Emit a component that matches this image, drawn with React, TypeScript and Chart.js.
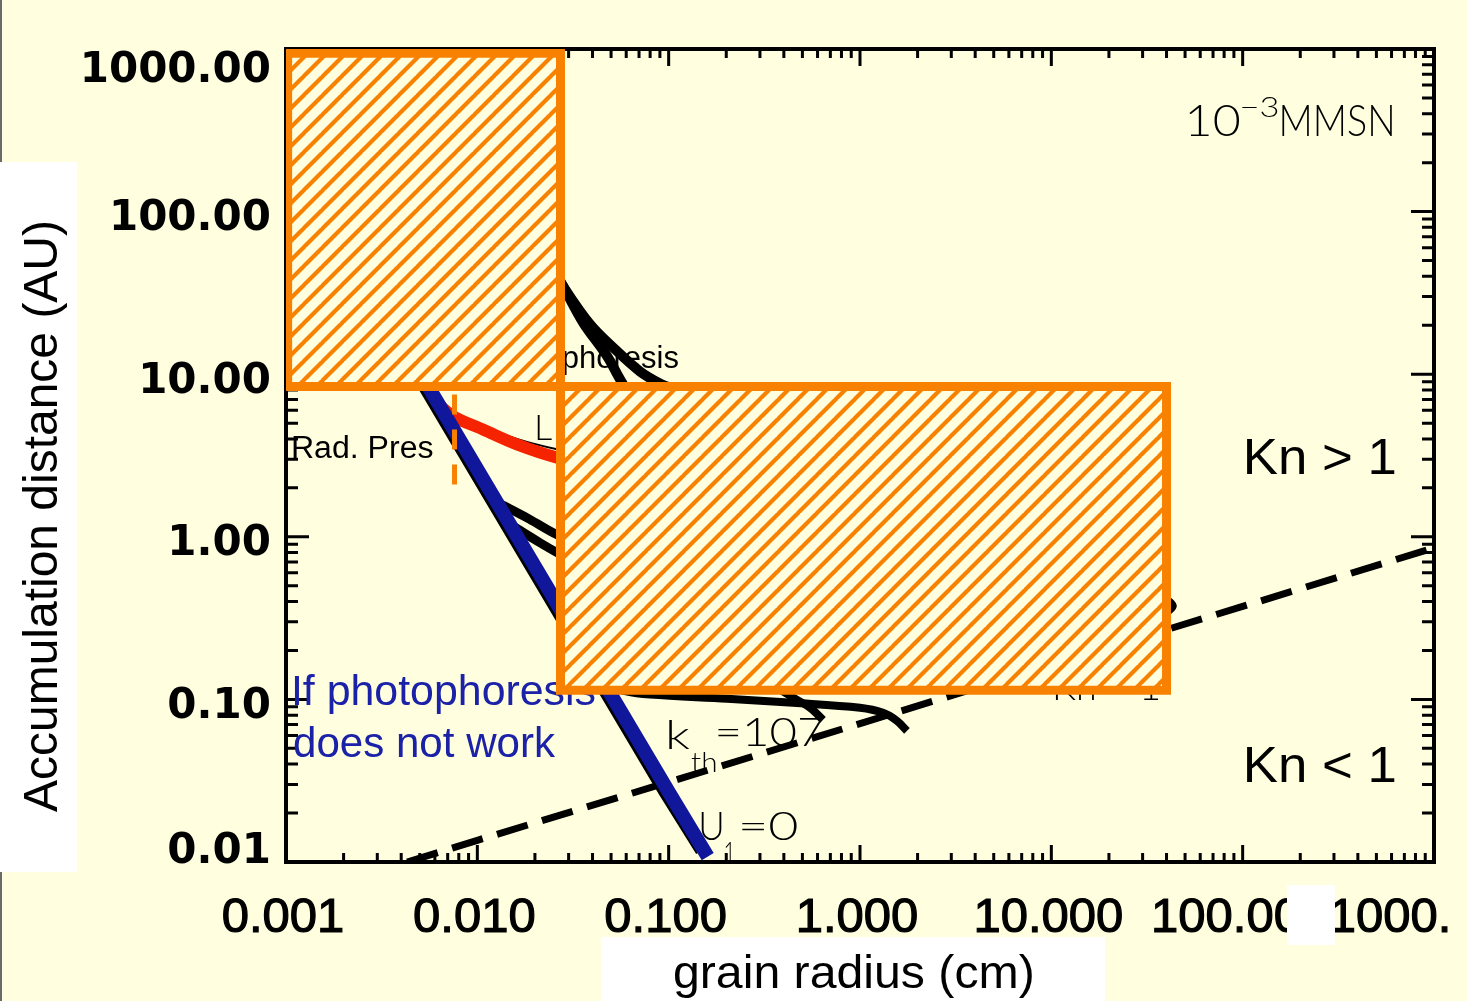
import React, { useEffect, useRef } from "react";
import { Chart, registerables } from "chart.js";
Chart.register(...registerables);

const W = 1467;
const H = 1001;

// ---- axes ----
const xRange = [0.001, 1000];
const yRange = [0.01, 1000];
const xTickValues = [0.001, 0.01, 0.1, 1, 10, 100, 1000];
const xTickLabels = ["0.001", "0.010", "0.100", "1.000", "10.000", "100.000", "1000.000"];
const yTickValues = [1000, 100, 10, 1, 0.1, 0.01];
const yTickLabels = ["1000.00", "100.00", "10.00", "1.00", "0.10", "0.01"];

// ---- series (grain radius cm, accumulation distance AU) ----
const noPhotoX = [0.004, 0.01, 0.1, 0.16];
const noPhotoY = [16, 2.6, 0.027, 0.0108];
const noPhotoEdgeX = [0.0038, 0.0095, 0.095, 0.148];
const noPhotoEdgeY = [16, 2.6, 0.027, 0.0117];
const knudsenX = [0.0043, 0.01, 0.1, 1, 10, 100, 1000];
const knudsenY = [0.01, 0.0136, 0.031, 0.071, 0.163, 0.373, 0.855];
const radPresX = [0.0048, 0.0055, 0.0063, 0.0075, 0.0107, 0.0161, 0.0261, 0.04];
const radPresY = [10.2, 7.9, 6.5, 5.5, 4.57, 3.7, 3.07, 2.8];
const radThinX = [0.0107, 0.0161, 0.0261, 0.04];
const radThinY = [4.8, 4.0, 3.45, 3.15];
const markerX = [0.0076, 0.0076];
const markerY = [7.5, 2.0];
const photoAX = [0.024, 0.0281, 0.0357, 0.0477, 0.0592, 0.07];
const photoAY = [48, 34.7, 20.8, 12.9, 8.3, 6.8];
const photoBX = [0.024, 0.0281, 0.0388, 0.0525, 0.0708, 0.09, 0.11];
const photoBY = [48, 34.7, 20.3, 14.2, 10.4, 8.78, 8.0];
const branchAX = [0.0128, 0.0138, 0.0188, 0.0261, 0.035];
const branchAY = [1.62, 1.55, 1.28, 1.03, 0.9];
const branchBX = [0.0148, 0.016, 0.02, 0.0261, 0.035];
const branchBY = [1.2, 1.13, 0.96, 0.8, 0.68];
const lowerAX = [0.04, 0.06, 0.08, 0.202, 0.447, 1.0, 1.32, 1.56, 1.76];
const lowerAY = [0.13, 0.112, 0.107, 0.101, 0.0953, 0.0888, 0.0827, 0.0738, 0.064];
const lowerBX = [0.33, 0.416, 0.548, 0.641];
const lowerBY = [0.13, 0.108, 0.0888, 0.0748];
const curlX = [36, 39.4, 43.4, 40.3];
const curlY = [0.44, 0.42, 0.377, 0.341];

// ---- excluded (hatched) regions ----
const boxXFrom = [0.00102, 0.0272];
const boxXTo = [0.0272, 40];
const boxYFrom = [8.4, 0.114];
const boxYTo = [940, 8.4];

const BG = "#FFFFE0";
const ORANGE = "#F98100";
const BLUE_LINE = "#10179B";
const BLUE_TEXT = "#1B22A8";
const RED = "#F62300";
const SANS = "'Liberation Sans', Arial, sans-serif";
const thin = (px: number) => `300 ${px}px Lato, 'DejaVu Sans', sans-serif`;
const sans = (px: number) => `${px}px ${SANS}`;

const pts = (xs: number[], ys: number[]) => xs.map((x, i) => ({ x, y: ys[i] }));

function fitText(
  ctx: CanvasRenderingContext2D,
  str: string,
  left: number,
  right: number,
  baseline: number,
  font: string,
  color: string
) {
  ctx.save();
  ctx.font = font;
  ctx.fillStyle = color;
  ctx.textAlign = "left";
  ctx.textBaseline = "alphabetic";
  const m = ctx.measureText(str);
  const inkW = m.actualBoundingBoxLeft + m.actualBoundingBoxRight;
  const sx = inkW > 0 ? (right - left) / inkW : 1;
  ctx.translate(left, baseline);
  ctx.scale(sx, 1);
  ctx.fillText(str, m.actualBoundingBoxLeft, 0);
  ctx.restore();
}

function makeHatch(): CanvasPattern | string {
  const s = 19;
  const c = document.createElement("canvas");
  c.width = s;
  c.height = s;
  const g = c.getContext("2d");
  if (!g) return BG;
  g.fillStyle = BG;
  g.fillRect(0, 0, s, s);
  g.strokeStyle = ORANGE;
  g.lineWidth = 4.2;
  g.beginPath();
  for (const k of [-1, 0, 1]) {
    g.moveTo(k * s - 1, s + 1);
    g.lineTo(k * s + s + 1, -1);
  }
  g.stroke();
  return g.createPattern(c, "repeat") || BG;
}

const bgPlugin = {
  id: "bgPlugin",
  beforeDraw(chart: any) {
    const ctx = chart.ctx as CanvasRenderingContext2D;
    ctx.save();
    ctx.fillStyle = BG;
    ctx.fillRect(0, 0, W, H);
    ctx.fillStyle = "#6a6a6a";
    ctx.fillRect(0, 0, 2, H);
    ctx.restore();
  },
};

const framePlugin = {
  id: "framePlugin",
  beforeDatasetsDraw(chart: any) {
    const ctx = chart.ctx as CanvasRenderingContext2D;
    const a = chart.chartArea;
    const xs = chart.scales.x;
    const ys = chart.scales.y;
    ctx.save();
    ctx.strokeStyle = "#000";
    ctx.lineWidth = 3;
    ctx.beginPath();
    const e0x = Math.round(Math.log10(xRange[0]));
    const e1x = Math.round(Math.log10(xRange[1]));
    for (let e = e0x; e <= e1x; e++) {
      for (let m = 1; m <= 9; m++) {
        const v = m * Math.pow(10, e);
        if (v > xRange[1] * 1.0001) continue;
        const px = xs.getPixelForValue(v);
        const len = m === 1 ? 17 : 9;
        ctx.moveTo(px, a.bottom);
        ctx.lineTo(px, a.bottom - len);
        ctx.moveTo(px, a.top);
        ctx.lineTo(px, a.top + len);
      }
    }
    const e0y = Math.round(Math.log10(yRange[0]));
    const e1y = Math.round(Math.log10(yRange[1]));
    for (let e = e0y; e <= e1y; e++) {
      for (let m = 1; m <= 9; m++) {
        const v = m * Math.pow(10, e);
        if (v > yRange[1] * 1.0001) continue;
        const py = ys.getPixelForValue(v);
        const len = m === 1 ? 23 : 12;
        ctx.moveTo(a.left, py);
        ctx.lineTo(a.left + len, py);
        ctx.moveTo(a.right, py);
        ctx.lineTo(a.right - len, py);
      }
    }
    ctx.stroke();
    ctx.lineWidth = 4;
    ctx.strokeRect(a.left, a.top, a.right - a.left, a.bottom - a.top);

    // annotations under the hatched regions
    fitText(ctx, "Kn > 1", 1247, 1395, 474, sans(50), "#000");
    fitText(ctx, "Kn < 1", 1247, 1395, 782, sans(50), "#000");
    fitText(ctx, "Rad. Pres", 293, 433, 458, sans(31), "#000");
    ctx.font = sans(31);
    ctx.fillStyle = "#000";
    ctx.textAlign = "right";
    ctx.textBaseline = "alphabetic";
    ctx.fillText("Photophoresis", 679, 368);
    fitText(ctx, "If photophoresis", 294, 595, 705, sans(42), BLUE_TEXT);
    fitText(ctx, "does not work", 294, 556, 757, sans(42), BLUE_TEXT);
    fitText(ctx, "10", 1189, 1239, 136, thin(44), "#000");
    fitText(ctx, "\u22123", 1242, 1278, 117, thin(28), "#000");
    fitText(ctx, "MMSN", 1282, 1392, 136, thin(44), "#000");
    fitText(ctx, "k", 669, 690, 749, thin(40), "#000");
    fitText(ctx, "th", 691, 716, 772, thin(28), "#000");
    fitText(ctx, "=107", 718, 823, 746, thin(40), "#000");
    fitText(ctx, "U", 701, 722, 840, thin(40), "#000");
    fitText(ctx, "1", 725, 734, 862, thin(28), "#000");
    fitText(ctx, "=0", 742, 797, 840, thin(40), "#000");
    fitText(ctx, "L", 537, 552, 440, thin(36), "#000");
    fitText(ctx, "Kn = 1", 1055, 1158, 700, thin(38), "#000");
    ctx.restore();
  },
  afterDraw(chart: any) {
    const ctx = chart.ctx as CanvasRenderingContext2D;
    const a = chart.chartArea;
    const xs = chart.scales.x;
    const ys = chart.scales.y;
    ctx.save();
    // y tick labels
    ctx.font = `bold 42px 'DejaVu Sans', Verdana, sans-serif`;
    ctx.fillStyle = "#000";
    ctx.textAlign = "right";
    ctx.textBaseline = "alphabetic";
    yTickValues.forEach((v, i) => {
      const py = ys.getPixelForValue(v);
      const c = Math.min(Math.max(py + 3.5, a.top + 18), a.bottom - 14);
      ctx.fillText(yTickLabels[i], 271, c + 15);
    });
    // x tick labels (figure cropped at the right)
    ctx.save();
    ctx.beginPath();
    ctx.rect(0, 880, 1450, 70);
    ctx.clip();
    ctx.font = sans(49);
    ctx.textAlign = "center";
    ctx.lineWidth = 1.2;
    ctx.strokeStyle = "#000";
    xTickValues.forEach((v, i) => {
      const px = xs.getPixelForValue(v) - 3;
      ctx.fillText(xTickLabels[i], px, 932);
      ctx.strokeText(xTickLabels[i], px, 932);
    });
    ctx.restore();
    // white patches
    ctx.fillStyle = "#FFFFFF";
    ctx.fillRect(0, 162, 77, 710);
    ctx.fillRect(601, 937, 504, 64);
    ctx.fillRect(1287, 885, 48, 60);
    // axis titles
    fitText(ctx, "grain radius (cm)", 674, 1032, 988, sans(47), "#000");
    ctx.save();
    ctx.translate(57, 517);
    ctx.rotate(-Math.PI / 2);
    fitText(ctx, "Accumulation distance (AU)", -295, 295, 0, sans(48), "#000");
    ctx.restore();
    ctx.restore();
  },
};

export default function App() {
  const ref = useRef<HTMLCanvasElement>(null);
  useEffect(() => {
    document.body.style.margin = "0";
    document.body.style.overflow = "hidden";
    let chart: Chart | null = null;
    let cancelled = false;
    const fonts = [sans(40), thin(40), `bold 42px 'DejaVu Sans'`];
    Promise.all(fonts.map((f) => (document as any).fonts.load(f).catch(() => null))).then(() => {
      if (cancelled || !ref.current) return;
      const hatch = makeHatch();
      const line = (xs: number[], ys: number[], color: string, width: number, extra: any = {}) => ({
        data: pts(xs, ys),
        borderColor: color,
        borderWidth: width,
        pointRadius: 0,
        fill: false,
        tension: 0,
        borderCapStyle: "butt",
        ...extra,
      });
      const boxes = boxXFrom.map((x0, i) =>
        line(
          [x0, boxXTo[i], boxXTo[i], x0, x0],
          [boxYFrom[i], boxYFrom[i], boxYTo[i], boxYTo[i], boxYFrom[i]],
          ORANGE,
          9,
          { fill: "shape", backgroundColor: hatch, borderJoinStyle: "miter", borderCapStyle: "square" }
        )
      );
      const datasets: any[] = [
        boxes[1],
        boxes[0],
        line(markerX, markerY, ORANGE, 5, { borderDash: [20, 15] }),
        line(noPhotoX, noPhotoY, BLUE_LINE, 14),
        line(noPhotoEdgeX, noPhotoEdgeY, "#000", 12),
        line(radPresX, radPresY, RED, 12, { tension: 0.35 }),
        line(radThinX, radThinY, "#000", 2, { tension: 0.35 }),
        line(branchAX, branchAY, "#000", 9, { tension: 0.35 }),
        line(branchBX, branchBY, "#000", 9, { tension: 0.35 }),
        line(photoAX, photoAY, "#000", 10, { tension: 0.35 }),
        line(photoBX, photoBY, "#000", 10, { tension: 0.35 }),
        line(lowerAX, lowerAY, "#000", 8, { tension: 0.35 }),
        line(lowerBX, lowerBY, "#000", 8, { tension: 0.35 }),
        line(curlX, curlY, "#000", 7, { tension: 0.35 }),
        line(knudsenX, knudsenY, "#000", 7, { borderDash: [32, 15] }),
      ];
      chart = new Chart(ref.current, {
        type: "line",
        data: { datasets },
        options: {
          animation: false,
          responsive: false,
          maintainAspectRatio: false,
          devicePixelRatio: 1,
          events: [],
          layout: { padding: { left: 286, right: W - 1434, top: 49, bottom: H - 862 } },
          plugins: {
            legend: { display: false },
            tooltip: { enabled: false },
            title: { display: false },
          },
          scales: {
            x: { type: "logarithmic", min: xRange[0], max: xRange[1], display: false },
            y: { type: "logarithmic", min: yRange[0], max: yRange[1], display: false },
          },
        } as any,
        plugins: [bgPlugin, framePlugin],
      });
    });
    return () => {
      cancelled = true;
      if (chart) chart.destroy();
    };
  }, []);
  return (
    <div style={{ width: W, height: H }}>
      <canvas ref={ref} width={W} height={H} style={{ display: "block", width: W, height: H }} />
    </div>
  );
}
